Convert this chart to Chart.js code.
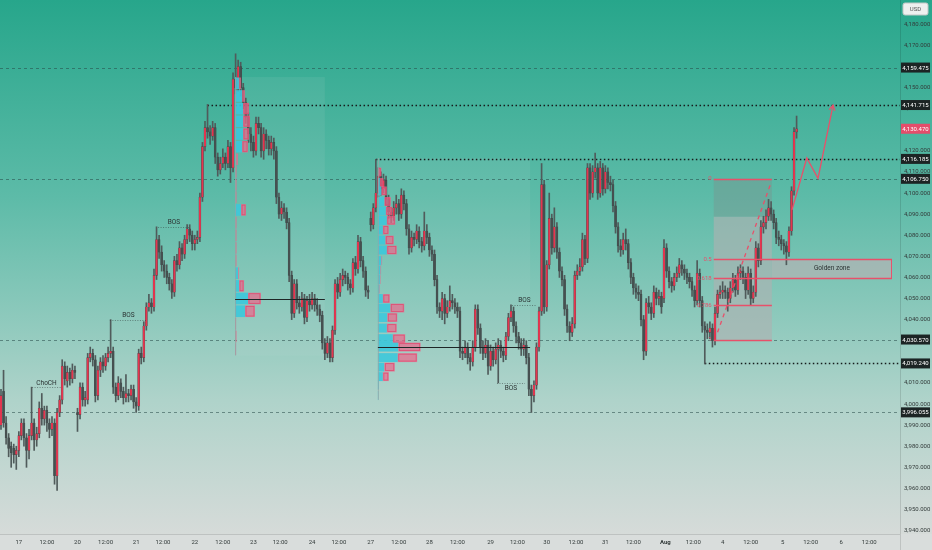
<!DOCTYPE html>
<html>
<head>
<meta charset="utf-8">
<script src="https://cdn.jsdelivr.net/npm/chart.js@4.4.1/dist/chart.umd.min.js"></script>
<style>
  html, body { margin: 0; padding: 0; background: #d9dddc; }
  #wrap { width: 932px; height: 550px; position: relative; }
</style>
</head>
<body>
<div id="wrap"><canvas id="chart"></canvas></div>
<script>
// Velas de 1h (XAUUSD)
const opens = [
  3990,4006,3991,3984,3980,3979,3976,3978,3985,3991,
  3984,3978,3985,3991,3983,3986,3998,3993,3997,3991,
  3988,3991,3966,3996,4002,4018,4011,4015,4012,4016,
  3996,3995,4008,4002,4002,4022,4024,4021,4004,4016,
  4020,4018,4022,4024,4025,4008,4004,4010,4006,4003,
  4005,4004,4007,4001,3999,4024,4022,4037,4046,4048,
  4046,4061,4078,4072,4066,4063,4060,4057,4053,4068,
  4066,4074,4071,4078,4083,4080,4076,4078,4079,4098,
  4122,4131,4129,4127,4131,4117,4111,4114,4117,4114,
  4122,4112,4154,4150,4160,4150,4143,4136,4128,4124,
  4120,4133,4131,4120,4128,4125,4121,4124,4120,4098,
  4090,4093,4091,4086,4061,4043,4057,4048,4046,4050,
  4041,4049,4047,4050,4047,4045,4042,4029,4024,4029,
  4022,4035,4057,4053,4059,4061,4060,4057,4055,4067,
  4064,4077,4068,4063,4054,4088,4085,4093,4100,4108,
  4102,4106,4097,4091,4089,4093,4095,4090,4099,4095,
  4083,4074,4079,4078,4082,4077,4075,4082,4079,4073,
  4071,4059,4046,4044,4050,4043,4046,4049,4048,4046,
  4044,4025,4024,4027,4022,4020,4027,4045,4036,4027,
  4024,4028,4018,4025,4021,4026,4028,4025,4023,4032,
  4041,4044,4037,4032,4029,4026,4028,4022,4007,4004,
  4009,4027,4044,4104,4046,4066,4088,4074,4084,4072,
  4063,4059,4045,4037,4034,4038,4061,4063,4065,4078,
  4069,4112,4100,4110,4112,4100,4112,4102,4110,4105,
  4104,4094,4084,4075,4073,4078,4076,4067,4060,4055,
  4053,4052,4040,4025,4048,4046,4043,4053,4050,4051,
  4050,4074,4063,4058,4056,4060,4062,4066,4064,4062,
  4060,4058,4054,4049,4062,4049,4037,4035,4034,4036,
  4030,4043,4052,4053,4054,4053,4050,4055,4059,4054,
  4062,4063,4060,4054,4062,4050,4053,4074,4068,4084,
  4086,4089,4093,4090,4086,4079,4078,4076,4075,4072,
  4082,4101,4129
];
const highs = [
  4007,4016,3994,3986,3982,3981,3980,3987,3993,3993,
  3986,3988,4008,3993,3989,4001,4005,3999,3999,3993,
  3994,3993,3998,4004,4021,4020,4018,4017,4019,4018,
  3998,4010,4010,4006,4024,4027,4026,4023,4018,4022,
  4023,4024,4027,4040,4027,4010,4013,4012,4008,4014,
  4007,4009,4009,4003,4026,4027,4039,4048,4052,4050,
  4064,4084,4080,4075,4068,4066,4062,4059,4070,4071,
  4077,4076,4080,4085,4085,4082,4080,4082,4100,4124,
  4134,4142,4132,4134,4133,4119,4117,4121,4119,4125,
  4124,4157,4166,4163,4162,4152,4145,4138,4131,4127,
  4136,4136,4133,4131,4130,4127,4127,4126,4122,4100,
  4096,4095,4093,4088,4063,4059,4059,4051,4053,4052,
  4051,4052,4053,4052,4050,4047,4044,4031,4032,4031,
  4037,4059,4060,4062,4064,4063,4062,4059,4069,4070,
  4080,4079,4070,4065,4056,4091,4095,4116,4112,4110,
  4109,4108,4099,4093,4096,4099,4097,4102,4101,4097,
  4085,4082,4081,4085,4084,4079,4091,4085,4081,4075,
  4073,4061,4048,4053,4052,4049,4056,4052,4050,4048,
  4046,4027,4030,4029,4024,4030,4047,4047,4038,4030,
  4031,4030,4028,4027,4029,4031,4030,4027,4034,4043,
  4047,4046,4039,4034,4031,4031,4030,4024,4009,4011,
  4029,4046,4114,4106,4068,4100,4090,4093,4086,4074,
  4065,4061,4047,4039,4041,4063,4066,4069,4081,4080,
  4114,4114,4113,4119,4114,4115,4114,4113,4112,4108,
  4106,4096,4086,4078,4081,4083,4078,4069,4062,4057,
  4056,4054,4042,4050,4051,4048,4056,4055,4054,4053,
  4078,4076,4065,4060,4062,4065,4069,4068,4066,4064,
  4062,4060,4056,4068,4064,4051,4039,4038,4039,4038,
  4046,4054,4056,4058,4056,4055,4058,4062,4061,4065,
  4066,4065,4062,4065,4064,4056,4077,4076,4087,4089,
  4092,4097,4096,4092,4088,4082,4080,4078,4077,4084,
  4103,4131,4136.5
];
const lows = [
  3988,3989,3981,3975,3970,3972,3969,3975,3983,3980,
  3970,3974,3983,3978,3980,3984,3990,3990,3987,3984,
  3985,3962,3959,3994,4000,4009,4008,4009,4010,4012,
  3987,3993,3999,3999,4000,4020,4018,4001,4002,4013,
  4015,4016,4020,4022,4005,4001,4002,4003,4000,4001,
  4001,4002,3998,3996,3997,4019,4020,4035,4044,4043,
  4044,4059,4069,4063,4060,4057,4054,4050,4051,4063,
  4064,4068,4069,4076,4077,4073,4073,4076,4077,4096,
  4120,4126,4123,4125,4114,4108,4109,4112,4111,4112,
  4105,4110,4147,4148,4146,4140,4133,4124,4120,4117,
  4118,4128,4117,4116,4121,4118,4118,4116,4095,4088,
  4087,4088,4083,4058,4040,4041,4045,4043,4044,4038,
  4039,4044,4045,4044,4042,4039,4026,4021,4022,4020,
  4020,4033,4050,4051,4056,4057,4054,4052,4053,4061,
  4062,4065,4060,4051,4050,4082,4083,4091,4098,4099,
  4100,4094,4088,4086,4087,4090,4087,4088,4092,4080,
  4071,4072,4075,4076,4074,4072,4073,4076,4070,4068,
  4056,4043,4041,4040,4038,4041,4044,4045,4043,4041,
  4022,4021,4022,4019,4016,4018,4025,4033,4024,4021,
  4022,4014,4016,4018,4019,4010,4022,4020,4021,4030,
  4039,4034,4029,4026,4023,4023,4019,4004,3996,4001,
  4007,4025,4042,4043,4044,4064,4071,4072,4069,4060,
  4056,4042,4034,4030,4032,4036,4059,4061,4063,4066,
  4067,4097,4098,4107,4097,4098,4099,4100,4102,4101,
  4091,4081,4072,4070,4071,4073,4064,4057,4052,4050,
  4049,4037,4021,4023,4043,4040,4041,4047,4047,4043,
  4048,4060,4055,4053,4054,4058,4060,4061,4059,4057,
  4055,4051,4046,4047,4046,4034,4019,4031,4031,4027,
  4028,4041,4050,4050,4050,4044,4048,4053,4051,4052,
  4059,4057,4050,4052,4047,4048,4051,4065,4066,4081,
  4083,4087,4087,4083,4076,4075,4073,4071,4066,4070,
  4080,4099,4126
];
const closes = [
  4004,3991,3984,3979,3977,3976,3978,3985,3991,3984,
  3978,3985,3991,3983,3986,3998,3993,3997,3991,3988,
  3991,3966,3996,4002,4018,4012,4015,4012,4016,4015,
  3995,4008,4002,4003,4022,4024,4021,4004,4016,4020,
  4018,4022,4024,4025,4008,4004,4010,4006,4003,4005,
  4004,4007,4001,3999,4024,4022,4037,4046,4048,4046,
  4061,4078,4072,4066,4063,4060,4057,4053,4068,4066,
  4074,4071,4078,4083,4080,4076,4078,4079,4098,4122,
  4131,4129,4127,4131,4117,4111,4114,4117,4114,4122,
  4112,4154,4150,4160,4150,4143,4136,4128,4124,4120,
  4133,4131,4120,4128,4125,4121,4124,4120,4098,4090,
  4093,4091,4086,4061,4043,4057,4048,4046,4050,4041,
  4049,4047,4050,4047,4045,4042,4029,4024,4029,4022,
  4035,4057,4053,4059,4061,4060,4057,4055,4067,4064,
  4077,4068,4063,4054,4053,4085,4093,4100,4108,4102,
  4106,4097,4091,4089,4093,4095,4090,4099,4095,4083,
  4074,4079,4078,4082,4077,4075,4082,4079,4073,4071,
  4059,4046,4044,4050,4043,4046,4049,4048,4046,4044,
  4025,4024,4027,4022,4020,4027,4045,4036,4027,4024,
  4028,4018,4025,4021,4026,4028,4025,4023,4032,4041,
  4044,4037,4032,4029,4026,4028,4022,4007,4004,4009,
  4027,4044,4104,4046,4066,4088,4074,4084,4072,4063,
  4059,4045,4037,4034,4038,4061,4063,4065,4078,4069,
  4112,4100,4110,4112,4100,4112,4102,4110,4105,4104,
  4094,4084,4075,4073,4078,4076,4067,4060,4055,4053,
  4052,4040,4025,4048,4046,4043,4053,4050,4051,4046,
  4074,4063,4058,4056,4060,4062,4066,4064,4062,4060,
  4058,4054,4049,4062,4049,4037,4035,4034,4036,4030,
  4043,4052,4053,4054,4053,4050,4055,4059,4054,4062,
  4063,4060,4054,4062,4050,4053,4074,4068,4084,4086,
  4089,4093,4090,4086,4079,4078,4076,4075,4072,4082,
  4101,4129,4130.47
];

// Eje de tiempo (índice de vela) y etiquetas
const xTickIdx = [7, 18, 30, 41, 53, 63.5, 76, 87, 99, 109.5, 122, 132.5, 145, 156, 168,
  179, 192, 202.5, 214, 225.5, 237, 248, 260.5, 271.5, 283, 294, 306.5, 317.5, 329.5, 340.5];
const xTickLabels = ['17', '12:00', '20', '12:00', '21', '12:00', '22', '12:00', '23', '12:00',
  '24', '12:00', '27', '12:00', '28', '12:00', '29', '12:00', '30', '12:00', '31', '12:00',
  'Aug', '12:00', '4', '12:00', '5', '12:00', '6', '12:00'];

// Niveles marcados en el eje de precios
const levelPrices = [4159.475, 4141.715, 4116.185, 4106.75, 4030.57, 4019.24, 3996.055];
const levelFrom = [0, 81, 147, 0, 0, 276, 0];
const levelDotted = [false, true, true, false, false, true, false];

// Fibonacci y zona dorada
const fibHigh = 4106.75;
const fibLow = 4030.57;
const fibRatios = [0, 0.5, 0.618, 0.786, 1];
const fibLabels = ['0', '0.5', '0.618', '0.786', '1'];
const fibFrom = 279.5, fibTo = 302.3, goldenTo = 349.4;
const fibDiagIdx = [281, 302];
const fibDiagPrice = [4034, 4105];

// Proyección
const pathIdx = [310.2, 316, 320.4, 326.3];
const pathPrice = [4092, 4116.6, 4107, 4141.7];

// Estructura (ChoCH / BOS)
const structText = ['ChoCH', 'BOS', 'BOS', 'BOS', 'BOS'];
const structPrice = [4008, 4040, 4084, 4047, 4010];
const structFrom = [12.2, 42.7, 61.6, 200.4, 194.5];
const structTo = [23.5, 57.3, 74.1, 210.2, 205.5];
const structBelow = [false, false, false, false, true];

// Perfiles de volumen (rango fijo)
const prof1Rows = [4152, 4146, 4140, 4134, 4128, 4122, 4116, 4110, 4104, 4098, 4092, 4086,
  4080, 4074, 4068, 4062, 4056, 4050, 4044, 4038, 4032, 4026];
const prof1Up = [4, 7, 8, 8, 8, 7, 1, 0, 0, 0, 6, 0, 0, 0, 0, 3, 4, 13, 10, 0, 0, 0];
const prof1Down = [2, 3, 6, 7, 6, 6, 2, 1.5, 1.5, 1.5, 5, 1.5, 1.5, 1.5, 1.5, 1, 5, 13, 10, 1, 1.5, 1];
const prof2Rows = [4110, 4105, 4101, 4096, 4091.5, 4087, 4082.5, 4077.7, 4073, 4068, 4063.5, 4059,
  4054.5, 4050, 4045.5, 4041, 4036, 4031, 4027, 4022, 4017.5, 4013, 4009, 4004];
const prof2Up = [0, 2, 3.5, 6.5, 8, 9, 5, 7.5, 9, 3.5, 2.5, 2, 1.5, 5, 12.5, 9.5, 9, 15, 20.5, 20, 6.5, 5, 1, 0.5];
const prof2Down = [3.5, 3.5, 5.5, 6.5, 6.5, 8.5, 6, 8.5, 10, 0.7, 0.7, 0.7, 0.5, 7, 14, 10, 10, 12.5, 22.5, 19.5, 10.5, 6, 0, 0];
const prof1Range = { from: 91.8, to: 127, top: 4155, bottom: 4023, poc: 4050, bin: 6 };
const prof2Range = { from: 147.8, to: 207.5, top: 4116.6, bottom: 4002, poc: 4027, bin: 4.7 };

const UP = '#e5354f';
const DOWN = '#465050';
const WICK = '#505b5b';
const PINK = '#e8506a';
const FONT = 'Roboto, "Liberation Sans", sans-serif';

const idx = closes.map((_, i) => i);
const fmt = v => v.toLocaleString('en-US', { minimumFractionDigits: 3, maximumFractionDigits: 3 });

function hLine(ctx, x0, x1, y, color, dash, width) {
  ctx.save();
  ctx.strokeStyle = color;
  ctx.lineWidth = width;
  ctx.setLineDash(dash);
  ctx.beginPath();
  ctx.moveTo(x0, Math.round(y) + 0.5);
  ctx.lineTo(x1, Math.round(y) + 0.5);
  ctx.stroke();
  ctx.restore();
}

function drawProfile(ctx, xs, ys, range, rows, up, down) {
  const unit = 0.39; // índice de vela por unidad de volumen
  const x0 = xs.getPixelForValue(range.from);
  rows.forEach((p, k) => {
    const yT = ys.getPixelForValue(p + range.bin / 2) + 0.5;
    const yB = ys.getPixelForValue(p - range.bin / 2) - 0.5;
    const x1 = xs.getPixelForValue(range.from + up[k] * unit);
    const x2 = xs.getPixelForValue(range.from + (up[k] + down[k]) * unit);
    if (up[k] > 0) {
      ctx.fillStyle = 'rgba(60,200,218,0.9)';
      ctx.fillRect(x0, yT, x1 - x0, yB - yT);
    }
    if (down[k] > 0) {
      ctx.fillStyle = 'rgba(236,105,140,0.72)';
      ctx.fillRect(x1, yT, x2 - x1, yB - yT);
      if (down[k] > 3) {
        ctx.strokeStyle = 'rgba(226,70,110,0.9)';
        ctx.lineWidth = 0.8;
        ctx.strokeRect(x1 + 1, yT + 1, x2 - x1 - 2, yB - yT - 2);
      }
    }
  });
  ctx.strokeStyle = 'rgba(150,165,165,0.8)';
  ctx.lineWidth = 1;
  ctx.beginPath();
  ctx.moveTo(x0 + 0.5, ys.getPixelForValue(range.top));
  ctx.lineTo(x0 + 0.5, ys.getPixelForValue(range.bottom));
  ctx.stroke();
  hLine(ctx, x0, xs.getPixelForValue(range.to), ys.getPixelForValue(range.poc), '#1e2626', [], 1.2);
}

const overlay = {
  id: 'overlay',
  beforeDraw(chart) {
    const { ctx, chartArea: a } = chart;
    ctx.save();
    const g = ctx.createLinearGradient(0, 0, 0, a.bottom);
    g.addColorStop(0, '#27a68b');
    g.addColorStop(0.37, '#5dbba8');
    g.addColorStop(0.56, '#86c7b9');
    g.addColorStop(0.75, '#afd3ca');
    g.addColorStop(1, '#d6dbd9');
    ctx.fillStyle = g;
    ctx.fillRect(0, 0, chart.width, a.bottom);
    ctx.fillStyle = '#d9dddc';
    ctx.fillRect(0, a.bottom, chart.width, chart.height - a.bottom);
    ctx.restore();
  },
  beforeDatasetsDraw(chart) {
    const { ctx, chartArea: a, scales: { x, y } } = chart;
    ctx.save();
    // rangos de los perfiles
    [prof1Range, prof2Range].forEach(r => {
      ctx.fillStyle = 'rgba(215,220,220,0.09)';
      const x0 = x.getPixelForValue(r.from), x1 = x.getPixelForValue(r.to);
      const y0 = y.getPixelForValue(r.top), y1 = y.getPixelForValue(r.bottom);
      ctx.fillRect(x0, y0, x1 - x0, y1 - y0);
    });
    // caja de Fibonacci
    const fx0 = x.getPixelForValue(fibFrom), fx1 = x.getPixelForValue(fibTo);
    const fy0 = y.getPixelForValue(fibHigh), fy1 = y.getPixelForValue(fibLow);
    const fyBand = y.getPixelForValue(fibHigh - 0.236 * (fibHigh - fibLow));
    ctx.fillStyle = 'rgba(120,150,145,0.45)';
    ctx.fillRect(fx0, fy0, fx1 - fx0, fyBand - fy0);
    ctx.fillStyle = 'rgba(175,178,178,0.62)';
    ctx.fillRect(fx0, fyBand, fx1 - fx0, fy1 - fyBand);
    // zona dorada
    const gy0 = y.getPixelForValue(fibHigh - 0.5 * (fibHigh - fibLow));
    const gy1 = y.getPixelForValue(fibHigh - 0.618 * (fibHigh - fibLow));
    const gx1 = x.getPixelForValue(goldenTo);
    ctx.fillStyle = 'rgba(178,180,180,0.72)';
    ctx.fillRect(fx1, gy0, gx1 - fx1, gy1 - gy0);
    // niveles horizontales
    levelPrices.forEach((p, k) => {
      const py = y.getPixelForValue(p);
      const px = x.getPixelForValue(levelFrom[k]);
      if (levelDotted[k]) hLine(ctx, px, a.right, py, '#161c1c', [1.5, 2.5], 1.4);
      else hLine(ctx, a.left, a.right, py, 'rgba(40,75,72,0.55)', [3, 3], 1);
    });
    ctx.restore();
  },
  afterDatasetsDraw(chart) {
    const { ctx, scales: { x, y } } = chart;
    ctx.save();
    drawProfile(ctx, x, y, prof1Range, prof1Rows, prof1Up, prof1Down);
    drawProfile(ctx, x, y, prof2Range, prof2Rows, prof2Up, prof2Down);

    // líneas de Fibonacci
    const fx0 = x.getPixelForValue(fibFrom), fx1 = x.getPixelForValue(fibTo);
    const gx1 = x.getPixelForValue(goldenTo);
    ctx.font = '6px ' + FONT;
    ctx.textAlign = 'right';
    ctx.textBaseline = 'middle';
    fibRatios.forEach((r, k) => {
      const py = y.getPixelForValue(fibHigh - r * (fibHigh - fibLow));
      const end = (r === 0.5 || r === 0.618) ? gx1 : fx1;
      hLine(ctx, fx0, end, py, PINK, [], 1.4);
      ctx.fillStyle = PINK;
      ctx.fillText(fibLabels[k], fx0 - 2, py);
    });
    // borde de la zona dorada
    const gy0 = y.getPixelForValue(fibHigh - 0.5 * (fibHigh - fibLow));
    const gy1 = y.getPixelForValue(fibHigh - 0.618 * (fibHigh - fibLow));
    ctx.strokeStyle = PINK;
    ctx.lineWidth = 1;
    ctx.beginPath();
    ctx.moveTo(gx1 - 0.5, gy0);
    ctx.lineTo(gx1 - 0.5, gy1);
    ctx.stroke();
    ctx.fillStyle = '#2a3232';
    ctx.textAlign = 'center';
    ctx.font = '6.5px ' + FONT;
    ctx.fillText('Golden zone', (fx1 + gx1) / 2, (gy0 + gy1) / 2);

    // diagonal discontinua
    ctx.strokeStyle = PINK;
    ctx.lineWidth = 1.3;
    ctx.setLineDash([4, 4]);
    ctx.beginPath();
    ctx.moveTo(x.getPixelForValue(fibDiagIdx[0]), y.getPixelForValue(fibDiagPrice[0]));
    ctx.lineTo(x.getPixelForValue(fibDiagIdx[1]), y.getPixelForValue(fibDiagPrice[1]));
    ctx.stroke();
    ctx.setLineDash([]);

    // flecha de la proyección
    const n = pathIdx.length;
    const ex = x.getPixelForValue(pathIdx[n - 1]), ey = y.getPixelForValue(pathPrice[n - 1]);
    const sx = x.getPixelForValue(pathIdx[n - 2]), sy = y.getPixelForValue(pathPrice[n - 2]);
    const ang = Math.atan2(ey - sy, ex - sx);
    ctx.lineWidth = 1.3;
    ctx.beginPath();
    ctx.moveTo(ex - 6 * Math.cos(ang - 0.5), ey - 6 * Math.sin(ang - 0.5));
    ctx.lineTo(ex, ey);
    ctx.lineTo(ex - 6 * Math.cos(ang + 0.5), ey - 6 * Math.sin(ang + 0.5));
    ctx.stroke();

    // ChoCH / BOS
    ctx.font = '6.5px ' + FONT;
    ctx.textAlign = 'center';
    structText.forEach((t, k) => {
      const py = y.getPixelForValue(structPrice[k]);
      const x0 = x.getPixelForValue(structFrom[k]), x1 = x.getPixelForValue(structTo[k]);
      hLine(ctx, x0, x1, py, 'rgba(50,60,60,0.65)', [1, 1.5], 0.8);
      ctx.fillStyle = '#2a3232';
      ctx.textBaseline = structBelow[k] ? 'top' : 'bottom';
      ctx.fillText(t, (x0 + x1) / 2, structBelow[k] ? py + 2 : py - 1);
    });
    ctx.restore();
  },
  afterDraw(chart) {
    const { ctx, chartArea: a, scales: { y } } = chart;
    ctx.save();
    ctx.strokeStyle = 'rgba(0,0,0,0.12)';
    ctx.lineWidth = 1;
    ctx.beginPath();
    ctx.moveTo(a.right + 0.5, 0);
    ctx.lineTo(a.right + 0.5, chart.height);
    ctx.moveTo(0, a.bottom + 0.5);
    ctx.lineTo(a.right, a.bottom + 0.5);
    ctx.stroke();

    ctx.font = '6px ' + FONT;
    ctx.textAlign = 'center';
    ctx.textBaseline = 'middle';
    const box = (p, bg) => {
      const py = y.getPixelForValue(p);
      ctx.fillStyle = bg;
      ctx.fillRect(a.right + 1, py - 5, 29, 10);
      ctx.fillStyle = '#ffffff';
      ctx.fillText(fmt(p), a.right + 15.5, py + 0.5);
    };
    levelPrices.forEach(p => box(p, '#1c2424'));
    box(closes[closes.length - 1], '#e44d6b');

    // etiqueta de moneda
    ctx.fillStyle = '#eef0ef';
    ctx.strokeStyle = '#c2c7c6';
    ctx.beginPath();
    ctx.roundRect(a.right + 3, 3, 25, 12, 2);
    ctx.fill();
    ctx.stroke();
    ctx.fillStyle = '#555';
    ctx.fillText('USD', a.right + 15.5, 9.5);
    ctx.restore();
  }
};

new Chart(document.getElementById('chart'), {
  type: 'bar',
  data: {
    datasets: [
      {
        type: 'line',
        data: pathIdx.map((v, k) => ({ x: v, y: pathPrice[k] })),
        borderColor: PINK,
        borderWidth: 1.3,
        pointRadius: 0,
        tension: 0,
        order: 0
      },
      {
        data: idx.map(i => ({ x: i, y: [opens[i], closes[i]] })),
        backgroundColor: idx.map(i => closes[i] >= opens[i] ? UP : DOWN),
        borderColor: 'rgba(55,62,62,0.75)',
        borderWidth: 0.4,
        borderSkipped: false,
        barThickness: 2.1,
        minBarLength: 0.8,
        grouped: false,
        order: 1
      },
      {
        data: idx.map(i => ({ x: i, y: [lows[i], highs[i]] })),
        backgroundColor: WICK,
        barThickness: 1,
        grouped: false,
        order: 2
      }
    ]
  },
  options: {
    responsive: true,
    maintainAspectRatio: false,
    animation: false,
    layout: { padding: 0 },
    plugins: { legend: { display: false }, tooltip: { enabled: false } },
    scales: {
      x: {
        type: 'linear',
        offset: false,
        min: -0.39,
        max: 352.55,
        grid: { display: false, drawTicks: false },
        border: { display: false },
        afterBuildTicks: s => { s.ticks = xTickIdx.map(v => ({ value: v })); },
        afterFit: s => { s.height = 16; s.paddingLeft = 0; s.paddingRight = 0; },
        ticks: {
          autoSkip: false,
          maxRotation: 0,
          padding: 5,
          color: '#333b3a',
          font: ctx => ({ family: FONT, size: 6, weight: ctx.tick && ctx.tick.value === 260.5 ? 'bold' : 'normal' }),
          callback: v => {
            const k = xTickIdx.indexOf(v);
            return k >= 0 ? xTickLabels[k] : '';
          }
        }
      },
      y: {
        type: 'linear',
        position: 'right',
        min: 3938.4,
        max: 4191.5,
        grid: { display: false, drawTicks: false },
        border: { display: false },
        afterBuildTicks: s => { s.ticks = s.ticks.filter(t => t.value >= 3940 && t.value <= 4180); },
        afterFit: s => { s.width = 32; s.paddingTop = 0; s.paddingBottom = 0; },
        ticks: {
          stepSize: 10,
          includeBounds: false,
          padding: 4,
          color: '#333b3a',
          font: { family: FONT, size: 6 },
          callback: v => fmt(v)
        }
      }
    }
  },
  plugins: [overlay]
});
</script>
</body>
</html>
